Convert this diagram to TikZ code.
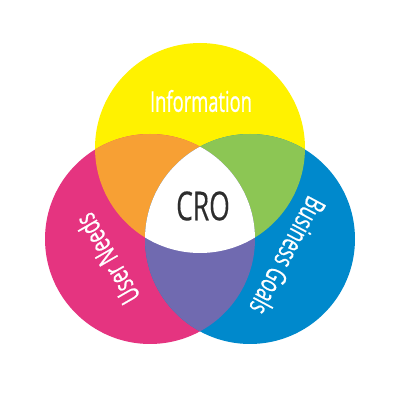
\documentclass[tikz,border=0pt]{standalone}
\usepackage{fontspec}
\newfontfamily\lblfont[FakeStretch=0.64,FakeBold=0.6]{Open Sans}
\newfontfamily\crofont[FakeStretch=0.66,FakeBold=0.3]{Open Sans}
\definecolor{cyel}{RGB}{255,242,0}
\definecolor{cpink}{RGB}{229,52,128}
\definecolor{cblue}{RGB}{0,137,204}
\definecolor{corange}{RGB}{247,160,52}
\definecolor{cgreen}{RGB}{140,198,84}
\definecolor{cpurple}{RGB}{112,106,176}
\definecolor{ctext}{RGB}{45,45,45}
\tikzset{
  lbl/.style={text=white, font=\lblfont\fontsize{21.5}{24}\selectfont, inner sep=0pt},
}
\begin{document}
\begin{tikzpicture}[x=0.75pt,y=0.75pt]
\useasboundingbox (0,0) rectangle (400,400);
\fill[white] (0,0) rectangle (400,400);
\coordinate (Y) at (200,252);
\coordinate (P) at (150,161);
\coordinate (B) at (250,161);
\def\R{105}
\fill[cyel] (Y) circle[radius=\R];
\fill[cpink] (P) circle[radius=\R];
\fill[cblue] (B) circle[radius=\R];
\begin{scope}
  \clip (Y) circle[radius=\R];
  \fill[corange] (P) circle[radius=\R];
  \fill[cgreen] (B) circle[radius=\R];
\end{scope}
\begin{scope}
  \clip (P) circle[radius=\R];
  \fill[cpurple] (B) circle[radius=\R];
\end{scope}
\begin{scope}
  \clip (Y) circle[radius=\R];
  \clip (P) circle[radius=\R];
  \fill[white] (B) circle[radius=\R];
\end{scope}
\node[lbl] (info) at (201,299) {Information};
\node[lbl, rotate=120] (user) at (107,141) {User Needs};
\node[lbl, rotate=-118] (biz) at (288,144) {Business Goals};
\node[text=ctext, font=\crofont\fontsize{30}{32}\selectfont, inner sep=0pt] (cro) at (203,194) {CRO};
\end{tikzpicture}
\end{document}
